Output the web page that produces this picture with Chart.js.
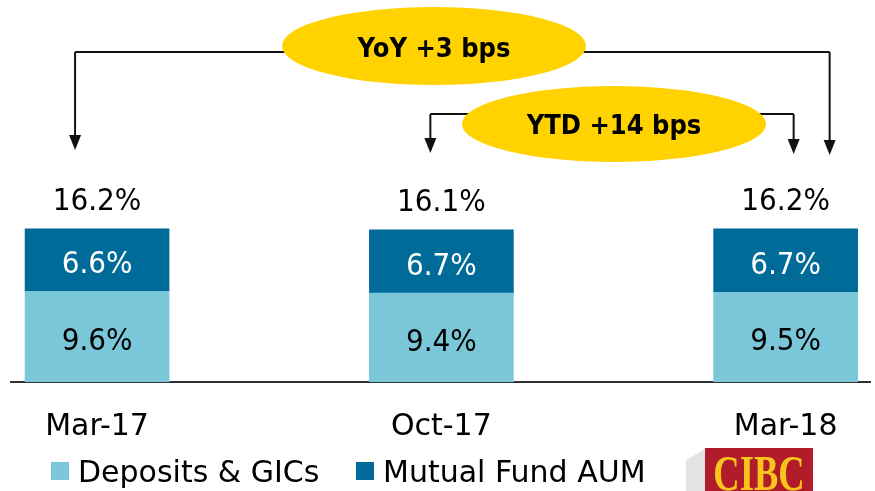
<!DOCTYPE html>
<html>
<head>
<meta charset="utf-8">
<script src="https://cdn.jsdelivr.net/npm/chart.js@4.4.0/dist/chart.umd.min.js"></script>
<style>
  html, body { margin: 0; padding: 0; background: #fff; overflow: hidden; }
</style>
</head>
<body>
<canvas id="chart" width="875" height="491"></canvas>
<script>
// values
var periods = ['Mar-17', 'Oct-17', 'Mar-18'];
var deposits = [9.6, 9.4, 9.5];
var mutualFunds = [6.6, 6.7, 6.7];
var totals = [16.2, 16.1, 16.2];
var seriesNames = ['Deposits & GICs', 'Mutual Fund AUM'];
var callouts = ['YoY +3 bps', 'YTD +14 bps'];

var lightBlue = '#7ac7da';
var darkBlue = '#006b99';
var gold = '#ffd200';

function pct(v) { return v.toFixed(1) + '%'; }

function arrowDown(ctx, x, y0, tip) {
  ctx.beginPath();
  ctx.moveTo(x, y0);
  ctx.lineTo(x, tip - 14);
  ctx.stroke();
  ctx.beginPath();
  ctx.moveTo(x - 6, tip - 15);
  ctx.lineTo(x + 6, tip - 15);
  ctx.lineTo(x, tip);
  ctx.closePath();
  ctx.fill();
}

var barLabels = {
  id: 'barLabels',
  afterDatasetsDraw: function(chart) {
    var ctx = chart.ctx;
    ctx.save();
    ctx.font = '31px "DejaVu Sans Condensed", "DejaVu Sans"';
    ctx.textAlign = 'center';
    ctx.textBaseline = 'alphabetic';
    chart.data.datasets.forEach(function(ds, di) {
      var meta = chart.getDatasetMeta(di);
      meta.data.forEach(function(bar, i) {
        ctx.fillStyle = di === 1 ? '#fff' : '#000';
        ctx.fillText(pct(ds.data[i].y), bar.x, (bar.y + bar.base) / 2 + 13);
      });
    });
    // totals above the stacks
    var top = chart.getDatasetMeta(1);
    ctx.fillStyle = '#000';
    top.data.forEach(function(bar, i) {
      ctx.fillText(pct(totals[i]), bar.x, bar.y - 19);
    });
    ctx.restore();
  }
};

var callout = {
  id: 'callout',
  afterDraw: function(chart) {
    var ctx = chart.ctx;
    var xs = chart.scales.x;
    var c0 = xs.getPixelForValue(0), c1 = xs.getPixelForValue(1), c2 = xs.getPixelForValue(2);
    ctx.save();
    ctx.strokeStyle = '#111';
    ctx.fillStyle = '#111';
    ctx.lineWidth = 2;
    // YoY bracket
    ctx.beginPath();
    ctx.moveTo(c0 - 22, 52);
    ctx.lineTo(c2 + 44, 52);
    ctx.stroke();
    arrowDown(ctx, c0 - 22, 52, 150);
    arrowDown(ctx, c2 + 44, 52, 155);
    // YTD bracket
    ctx.beginPath();
    ctx.moveTo(c1 - 11, 114);
    ctx.lineTo(c2 + 8, 114);
    ctx.stroke();
    arrowDown(ctx, c1 - 11, 114, 153);
    arrowDown(ctx, c2 + 8, 114, 154);

    ctx.fillStyle = gold;
    ctx.beginPath();
    ctx.ellipse(434, 46, 152, 39, 0, 0, Math.PI * 2);
    ctx.fill();
    ctx.beginPath();
    ctx.ellipse(614, 124, 152, 38, 0, 0, Math.PI * 2);
    ctx.fill();

    ctx.fillStyle = '#000';
    ctx.font = 'bold 27px "DejaVu Sans Condensed", "DejaVu Sans"';
    ctx.textAlign = 'center';
    ctx.textBaseline = 'alphabetic';
    ctx.fillText(callouts[0], 434, 57);
    ctx.fillText(callouts[1], 614, 134);

    // legend
    ctx.font = '30px "DejaVu Sans"';
    ctx.textAlign = 'left';
    ctx.fillStyle = lightBlue;
    ctx.fillRect(51, 462, 18, 18);
    ctx.fillStyle = darkBlue;
    ctx.fillRect(356, 462, 18, 18);
    ctx.fillStyle = '#000';
    ctx.fillText(seriesNames[0], 78, 482);
    ctx.fillText(seriesNames[1], 383, 482);

    // CIBC logo
    ctx.fillStyle = '#e4e4e4';
    ctx.beginPath();
    ctx.moveTo(705, 449);
    ctx.lineTo(686, 460);
    ctx.lineTo(686, 491);
    ctx.lineTo(705, 491);
    ctx.closePath();
    ctx.fill();
    ctx.fillStyle = '#b01c2a';
    ctx.fillRect(705, 448, 108, 43);
    ctx.save();
    ctx.translate(759, 490);
    ctx.scale(0.73, 1);
    ctx.fillStyle = '#f8c51c';
    ctx.font = 'bold 50px "Liberation Serif"';
    ctx.textAlign = 'center';
    ctx.fillText('CIBC', 0, 0);
    ctx.restore();
    ctx.restore();
  }
};

var ctx = document.getElementById('chart').getContext('2d');
var chart = new Chart(ctx, {
  type: 'bar',
  data: {
    datasets: [{
      label: seriesNames[0],
      data: deposits.map(function(v, i) { return { x: i, y: v }; }),
      backgroundColor: lightBlue,
      barThickness: 144
    }, {
      label: seriesNames[1],
      data: mutualFunds.map(function(v, i) { return { x: i, y: v }; }),
      backgroundColor: darkBlue,
      barThickness: 144
    }]
  },
  options: {
    responsive: false,
    animation: false,
    layout: { padding: { left: 11, right: 5, top: 4, bottom: 19 } },
    plugins: { legend: { display: false }, tooltip: { enabled: false } },
    scales: {
      x: {
        type: 'linear',
        stacked: true,
        offset: false,
        min: -0.25,
        max: 2.245,
        afterBuildTicks: function(scale) {
          scale.ticks = periods.map(function(p, i) { return { value: i }; });
        },
        ticks: {
          autoSkip: false,
          maxRotation: 0,
          padding: 27,
          color: '#000',
          font: { family: '"DejaVu Sans"', size: 30 },
          callback: function(v) { return periods[v]; }
        },
        grid: { display: false, drawTicks: false, offset: false },
        border: { display: true, color: '#333', width: 2 }
      },
      y: {
        stacked: true,
        display: false,
        min: 0,
        max: 40
      }
    }
  },
  plugins: [barLabels, callout]
});
</script>
</body>
</html>
